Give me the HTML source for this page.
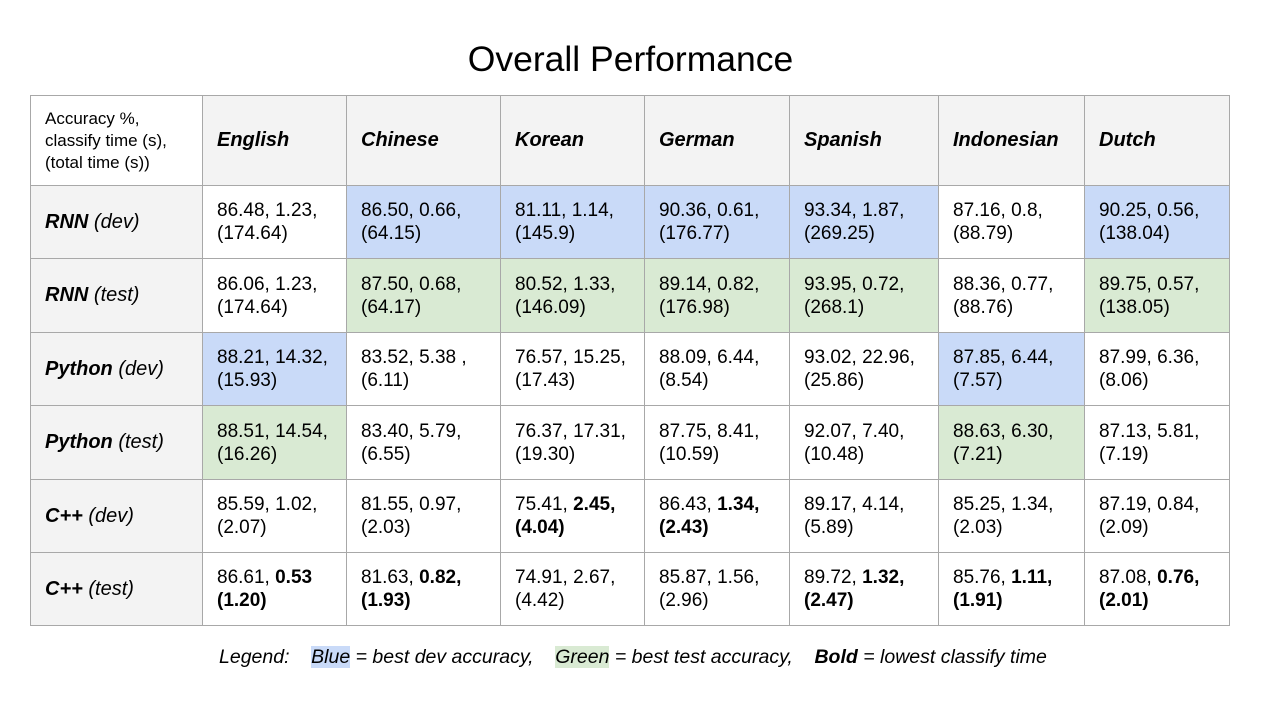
<!DOCTYPE html>
<html><head><meta charset="utf-8"><style>
html,body{margin:0;padding:0;background:#fff;width:1261px;height:706px;overflow:hidden;font-family:"Liberation Sans",sans-serif;color:#000}
#title{position:absolute;left:0;width:1261px;top:38px;text-align:center;font-size:35.5px;line-height:42px}
table{position:absolute;left:30px;top:95px;border-collapse:collapse;table-layout:fixed}
td{border:1.5px solid #a8a8a8;padding:0 0 0 14px;font-size:19px;line-height:23px;vertical-align:middle;overflow:hidden;white-space:nowrap}
.h{background:#f3f3f3;font-weight:bold;font-style:italic;font-size:20px}
.rh{background:#f3f3f3;font-size:20px}
.rh b{font-style:italic}.rh i{font-weight:normal}
.b{background:#c9daf8}.g{background:#d9ead3}
.c{font-size:17px;line-height:22px}
#legend{position:absolute;left:219px;top:645px;font-size:19.5px;font-style:italic;line-height:24px;white-space:pre}
#legend .bl{background:#c9daf8}#legend .gr{background:#d9ead3}
</style></head><body>
<div id="title">Overall Performance</div>
<table>
<colgroup><col style="width:172px"><col style="width:144px"><col style="width:154px"><col style="width:144px"><col style="width:145px"><col style="width:149px"><col style="width:146px"><col style="width:145px"></colgroup>
<tr style="height:90px">
<td class="c">Accuracy %,<br>classify time (s),<br>(total time (s))</td>
<td class="h">English</td>
<td class="h">Chinese</td>
<td class="h">Korean</td>
<td class="h">German</td>
<td class="h">Spanish</td>
<td class="h">Indonesian</td>
<td class="h">Dutch</td></tr>
<tr style="height:73px">
<td class="rh"><b>RNN</b> <i>(dev)</i></td>
<td>86.48, 1.23,<br>(174.64)</td>
<td class="b">86.50, 0.66,<br>(64.15)</td>
<td class="b">81.11, 1.14,<br>(145.9)</td>
<td class="b">90.36, 0.61,<br>(176.77)</td>
<td class="b">93.34, 1.87,<br>(269.25)</td>
<td>87.16, 0.8,<br>(88.79)</td>
<td class="b">90.25, 0.56,<br>(138.04)</td></tr>
<tr style="height:74px">
<td class="rh"><b>RNN</b> <i>(test)</i></td>
<td>86.06, 1.23,<br>(174.64)</td>
<td class="g">87.50, 0.68,<br>(64.17)</td>
<td class="g">80.52, 1.33,<br>(146.09)</td>
<td class="g">89.14, 0.82,<br>(176.98)</td>
<td class="g">93.95, 0.72,<br>(268.1)</td>
<td>88.36, 0.77,<br>(88.76)</td>
<td class="g">89.75, 0.57,<br>(138.05)</td></tr>
<tr style="height:73px">
<td class="rh"><b>Python</b> <i>(dev)</i></td>
<td class="b">88.21, 14.32,<br>(15.93)</td>
<td>83.52, 5.38 ,<br>(6.11)</td>
<td>76.57, 15.25,<br>(17.43)</td>
<td>88.09, 6.44,<br>(8.54)</td>
<td>93.02, 22.96,<br>(25.86)</td>
<td class="b">87.85, 6.44,<br>(7.57)</td>
<td>87.99, 6.36,<br>(8.06)</td></tr>
<tr style="height:74px">
<td class="rh"><b>Python</b> <i>(test)</i></td>
<td class="g">88.51, 14.54,<br>(16.26)</td>
<td>83.40, 5.79,<br>(6.55)</td>
<td>76.37, 17.31,<br>(19.30)</td>
<td>87.75, 8.41,<br>(10.59)</td>
<td>92.07, 7.40,<br>(10.48)</td>
<td class="g">88.63, 6.30,<br>(7.21)</td>
<td>87.13, 5.81,<br>(7.19)</td></tr>
<tr style="height:73px">
<td class="rh"><b>C++</b> <i>(dev)</i></td>
<td>85.59, 1.02,<br>(2.07)</td>
<td>81.55, 0.97,<br>(2.03)</td>
<td>75.41, <b>2.45,<br>(4.04)</b></td>
<td>86.43, <b>1.34,<br>(2.43)</b></td>
<td>89.17, 4.14,<br>(5.89)</td>
<td>85.25, 1.34,<br>(2.03)</td>
<td>87.19, 0.84,<br>(2.09)</td></tr>
<tr style="height:73px">
<td class="rh"><b>C++</b> <i>(test)</i></td>
<td>86.61, <b>0.53<br>(1.20)</b></td>
<td>81.63, <b>0.82,<br>(1.93)</b></td>
<td>74.91, 2.67,<br>(4.42)</td>
<td>85.87, 1.56,<br>(2.96)</td>
<td>89.72, <b>1.32,<br>(2.47)</b></td>
<td>85.76, <b>1.11,<br>(1.91)</b></td>
<td>87.08, <b>0.76,<br>(2.01)</b></td></tr>
</table>
<div id="legend">Legend:    <span class="bl">Blue</span> = best dev accuracy,    <span class="gr">Green</span> = best test accuracy,    <b>Bold</b> = lowest classify time</div>
</body></html>
